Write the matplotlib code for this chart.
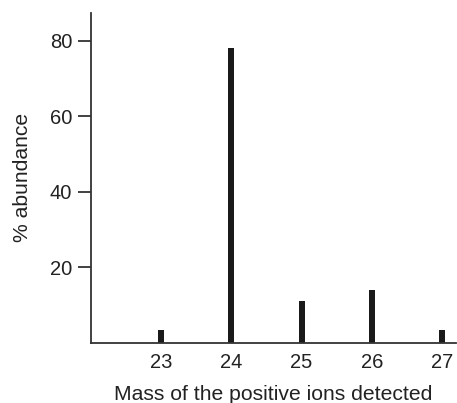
import matplotlib
matplotlib.use("Agg")
from matplotlib import pyplot as plt

masses = [23, 24, 25, 26, 27]
abundance = [3.4, 78, 11.2, 14, 3.4]
y_ticks = [20, 40, 60, 80]

plt.rcParams['font.family'] = ['Liberation Sans', 'DejaVu Sans']

fig = plt.figure(figsize=(4.57, 4.03), dpi=100)
ax = fig.add_axes([0.199, 0.149, 0.799, 0.819])

ax.bar(masses, abundance, width=0.085, color='#1a1a1a')

ax.set_xlim(22.0, 27.2)
ax.set_ylim(0, 87.4)
ax.set_xticks(masses)
ax.set_yticks(y_ticks)

for side in ['top', 'right']:
    ax.spines[side].set_visible(False)
for side in ['left', 'bottom']:
    ax.spines[side].set_color('#333333')
    ax.spines[side].set_linewidth(1.3)

ax.tick_params(axis='x', length=0, pad=7.5, labelsize=14.5, colors='#222222')
ax.tick_params(axis='y', length=9.5, width=1.3, pad=4, labelsize=14.5,
               color='#333333', labelcolor='#222222')

ax.set_xlabel('Mass of the positive ions detected', fontsize=15.2, color='#222222', labelpad=9)
ax.set_ylabel('% abundance', fontsize=15.2, color='#222222', labelpad=13)

fig.savefig('out.png', dpi=100)
